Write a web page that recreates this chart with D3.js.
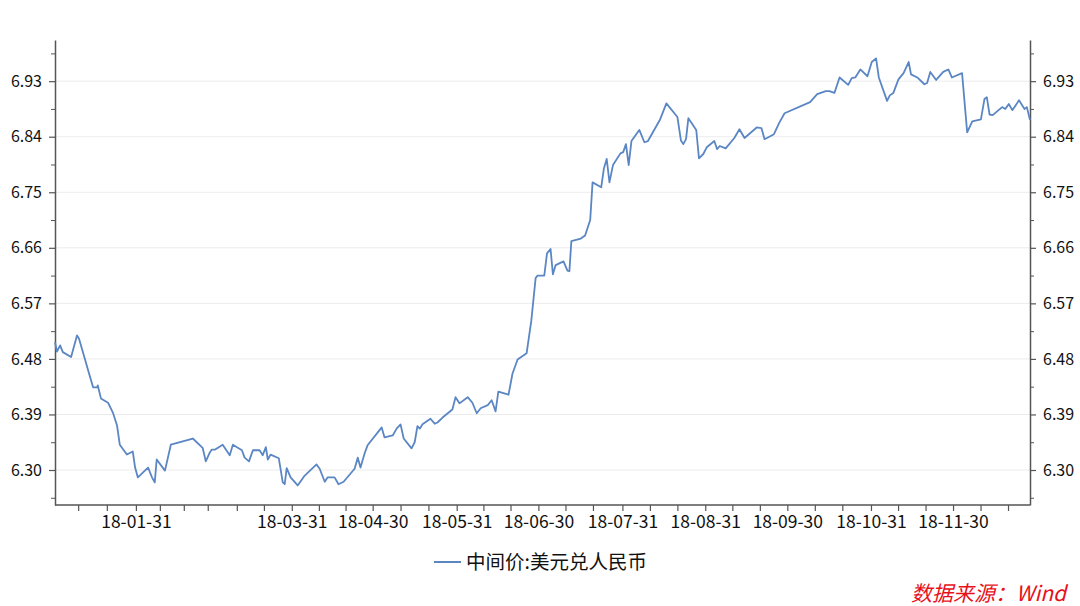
<!DOCTYPE html>
<html><head><meta charset="utf-8">
<script src="https://cdn.jsdelivr.net/npm/d3@7"></script>
<style>body{margin:0;background:#fff;font-family:"Noto Sans CJK SC","Noto Sans",sans-serif;}</style>
</head><body><svg id="c" width="1080" height="606"></svg>
<script>
// trading-day index positions and values (中间价:美元兑人民币)
const dayIdx = [0,0.5,1.3,2.0,4.1,5.6,6.1,7.1,8.6,9.7,10.7,10.9,11.7,13.5,14.8,15.8,16.5,18.3,19.8,20.4,21.1,23.7,24.7,25.4,25.9,28.0,29.5,35.1,37.6,38.4,39.4,39.9,40.7,42.7,44.5,45.3,47.6,48.3,49.4,50.4,52.1,52.9,53.7,54.2,54.9,57.0,58.0,58.5,59.0,60.0,61.8,63.6,66.6,67.4,68.7,69.4,71.2,72.2,73.5,76.3,77.1,77.8,78.9,79.6,83.2,83.9,86.0,87.0,88.0,88.8,90.8,91.6,92.3,92.9,93.6,95.6,96.7,97.4,98.7,101.2,102.0,103.0,105.1,106.3,107.4,108.4,110.2,111.2,112.2,112.9,115.5,116.5,117.8,120.1,121.3,122.4,122.9,124.6,125.3,126.2,126.8,127.5,129.5,130.5,131.0,131.5,133.9,135.0,136.3,136.9,139.1,139.8,140.5,141.2,142.1,144.0,144.7,145.4,146.1,146.8,148.8,150.1,151.0,154.1,155.7,158.5,159.4,160.0,160.7,161.3,163.3,164.0,165.1,166.0,167.9,168.6,169.3,170.8,173.0,174.3,175.6,178.7,179.9,180.7,183.1,184.4,185.8,192.3,194.1,196.3,197.2,198.5,199.8,202.0,202.9,203.8,205.1,206.9,208.0,209.1,209.8,211.9,212.6,213.5,214.8,216.1,217.4,218.0,219.6,221.4,222.1,222.9,224.4,226.2,227.5,228.4,231.0,232.3,233.6,235.8,236.7,237.3,238.0,238.8,241.2,242.0,242.9,243.8,245.5,246.9,247.5,248.3];
const rate = [6.507,6.492,6.502,6.491,6.483,6.518,6.513,6.491,6.458,6.434,6.434,6.437,6.416,6.409,6.392,6.372,6.341,6.325,6.330,6.304,6.288,6.304,6.288,6.280,6.317,6.299,6.341,6.351,6.336,6.314,6.328,6.333,6.333,6.341,6.324,6.341,6.332,6.320,6.314,6.332,6.332,6.324,6.337,6.317,6.325,6.319,6.280,6.277,6.303,6.288,6.275,6.291,6.309,6.302,6.281,6.288,6.288,6.277,6.281,6.302,6.320,6.304,6.328,6.340,6.369,6.353,6.356,6.367,6.374,6.351,6.335,6.345,6.371,6.367,6.374,6.383,6.375,6.377,6.385,6.398,6.418,6.408,6.418,6.409,6.392,6.400,6.405,6.413,6.395,6.427,6.422,6.456,6.479,6.489,6.542,6.611,6.615,6.615,6.651,6.658,6.617,6.632,6.638,6.623,6.622,6.671,6.675,6.680,6.705,6.766,6.758,6.789,6.804,6.766,6.794,6.813,6.815,6.828,6.794,6.833,6.851,6.831,6.833,6.868,6.894,6.872,6.834,6.828,6.836,6.870,6.851,6.805,6.812,6.823,6.833,6.820,6.825,6.821,6.838,6.852,6.838,6.855,6.854,6.836,6.844,6.862,6.878,6.896,6.909,6.914,6.914,6.911,6.936,6.924,6.935,6.936,6.949,6.938,6.961,6.967,6.936,6.898,6.907,6.911,6.933,6.943,6.961,6.941,6.936,6.925,6.927,6.945,6.932,6.945,6.949,6.936,6.943,6.847,6.865,6.868,6.901,6.904,6.876,6.875,6.888,6.885,6.893,6.883,6.899,6.885,6.888,6.867];
const xTickIdx = [5.9,13.2,20.6,26.7,32.8,38.9,46.3,53.2,60.3,67.2,74.0,80.9,88.0,95.1,102.3,109.1,116.0,123.1,130,137,144.5,151.5,158.5,165.6,172.5,179.5,186.5,193.5,200.5,207.8,214.7,221.7,228.7,235.7,242.7];
const xTickLabels = ["","","18-01-31","","","","","","18-03-31","","","18-04-30","","","18-05-31","","","18-06-30","","","18-07-31","","","18-08-31","","","18-09-30","","","18-10-31","","","18-11-30","",""];
const yTicks = [6.30,6.39,6.48,6.57,6.66,6.75,6.84,6.93];
const seriesName = "中间价:美元兑人民币";
const sourceText = "数据来源：Wind";

const svg = d3.select("#c");
const L=55,R=1030,T=40,B=505;
const x = d3.scaleLinear().domain([0,248.3]).range([L,R]);
const y = d3.scaleLinear().domain([6.2433,6.9967]).range([B,T]);
const minor = d3.range(6.255,6.99,0.09);
const FF = '"Noto Sans CJK SC",sans-serif';

svg.append("g").selectAll("line").data(yTicks).join("line")
  .attr("x1",L).attr("x2",R).attr("y1",d=>y(d)).attr("y2",d=>y(d))
  .attr("stroke","#ececec").attr("stroke-width",1);

const axColor="#555";
function styleAxis(g,fs){g.select(".domain").attr("stroke",axColor).attr("stroke-width",1.5);
  g.selectAll(".tick line").attr("stroke",axColor).attr("stroke-width",1.2);
  g.selectAll("text").attr("fill","#111").style("font-size",fs+"px").style("font-family",FF);}

const yl = svg.append("g").attr("transform",`translate(${L},0)`)
  .call(d3.axisLeft(y).tickValues(yTicks).tickFormat(d3.format(".2f")).tickSize(6).tickSizeOuter(0).tickPadding(7));
styleAxis(yl,16);
svg.append("g").attr("transform",`translate(${L},0)`).call(d3.axisLeft(y).tickValues(minor).tickFormat("").tickSize(4).tickSizeOuter(0)).call(g=>{g.select(".domain").remove();g.selectAll("line").attr("stroke",axColor);});
const yr = svg.append("g").attr("transform",`translate(${R},0)`)
  .call(d3.axisRight(y).tickValues(yTicks).tickFormat(d3.format(".2f")).tickSize(6).tickSizeOuter(0).tickPadding(7));
styleAxis(yr,16);
svg.append("g").attr("transform",`translate(${R},0)`).call(d3.axisRight(y).tickValues(minor).tickFormat("").tickSize(4).tickSizeOuter(0)).call(g=>{g.select(".domain").remove();g.selectAll("line").attr("stroke",axColor);});

const xa = svg.append("g").attr("transform",`translate(0,${B})`)
  .call(d3.axisBottom(x).tickValues(xTickIdx).tickFormat((d,i)=>xTickLabels[i]).tickSize(6).tickSizeOuter(0).tickPadding(5));
styleAxis(xa,17.5);
xa.select(".domain").attr("d",`M${L},0H${R}`);

const pts = dayIdx.map((d,i)=>[d,rate[i]]);
svg.append("path").datum(pts)
  .attr("d",d3.line().x(d=>x(d[0])).y(d=>y(d[1])))
  .attr("fill","none").attr("stroke","#5b86c4").attr("stroke-width",1.8).attr("stroke-linejoin","round");

svg.append("line").attr("x1",434).attr("x2",461).attr("y1",562).attr("y2",562).attr("stroke","#5b86c4").attr("stroke-width",2);
svg.append("text").attr("x",466).attr("y",569).text(seriesName).attr("fill","#111")
  .style("font-size","19.5px").style("font-family",FF);
svg.append("text").attr("x",1066).attr("y",601).attr("text-anchor","end").text(sourceText)
  .attr("fill","#e8101a").style("font-size","21px").style("font-style","italic").style("font-family",FF);
</script></body></html>
